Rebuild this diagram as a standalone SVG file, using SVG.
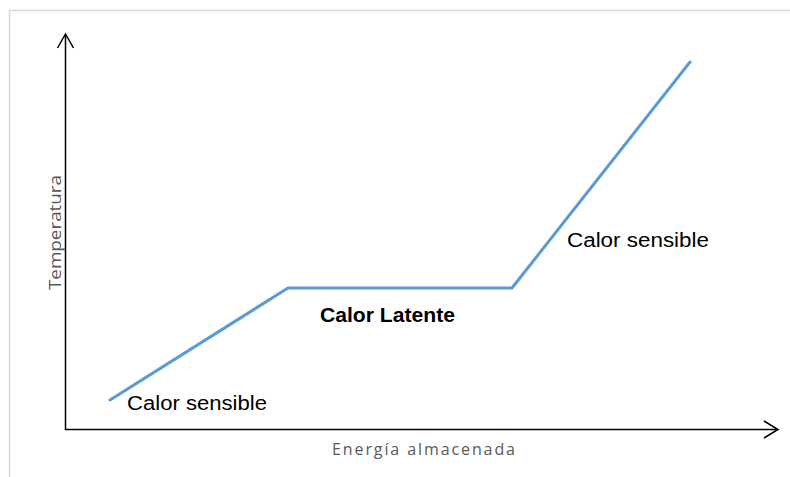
<svg xmlns="http://www.w3.org/2000/svg" width="790" height="477" viewBox="0 0 790 477">
<style>
.border{fill:none;stroke:#d9d9d9;stroke-width:1.5}
.axis{fill:none;stroke:#000;stroke-width:1.5}
.series{fill:none;stroke:#5b9bd5;stroke-width:3;stroke-linejoin:round;stroke-linecap:round}
.lbl{font-family:"Liberation Sans",Arial,sans-serif;font-size:20px;fill:#000}
.title{font-family:"Open Sans","Liberation Sans",sans-serif;font-size:16px;fill:#595959}
</style>
<rect class="border" x="9.5" y="10.5" width="800" height="480"/>
<g id="axes">
<line class="axis" x1="65.5" y1="430" x2="65.5" y2="35"/>
<polyline class="axis" points="57.5,48 65.5,34 73.5,48"/>
<line class="axis" x1="65" y1="429.5" x2="777" y2="429.5"/>
<polyline class="axis" points="764,421 778,429.5 764,438"/>
</g>
<g id="curve">
<polyline class="series" points="110,400 288,288 512,288 690,62"/>
</g>
<g id="labels">
<text class="lbl" x="127" y="410" textLength="140" lengthAdjust="spacingAndGlyphs">Calor sensible</text>
<text class="lbl" x="320" y="322" font-weight="bold" textLength="135" lengthAdjust="spacingAndGlyphs">Calor Latente</text>
<text class="lbl" x="567" y="247" textLength="142" lengthAdjust="spacingAndGlyphs">Calor sensible</text>
<text class="title" x="332" y="455" textLength="183" lengthAdjust="spacing">Energía almacenada</text>
<text class="title" transform="translate(61,290) rotate(-90)" x="0" y="0" textLength="115" lengthAdjust="spacingAndGlyphs">Temperatura</text>
</g>
</svg>
